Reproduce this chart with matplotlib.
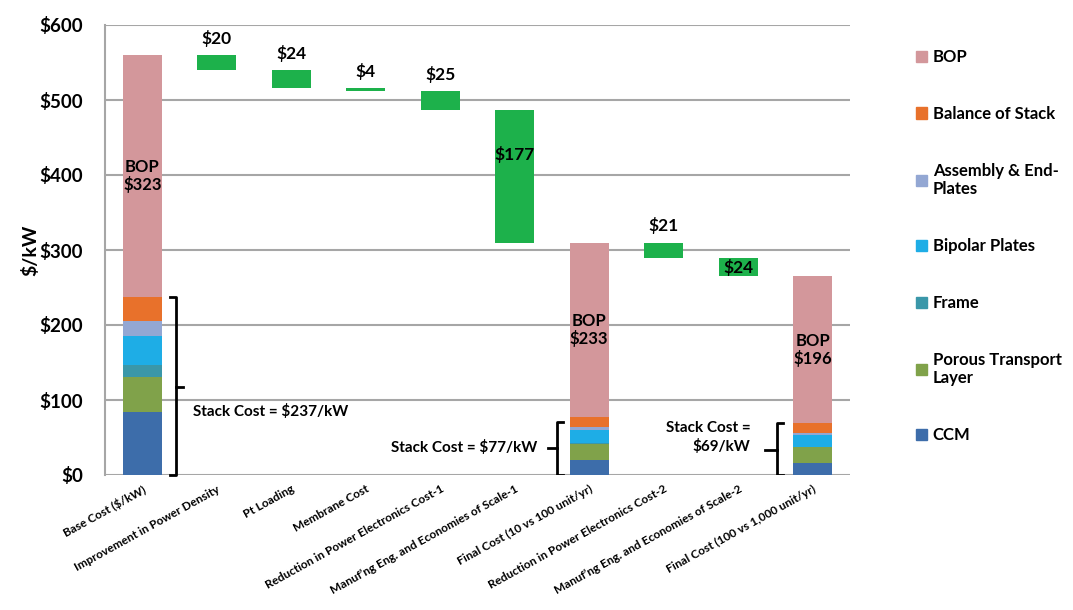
import numpy as np
import matplotlib
matplotlib.use("Agg")
import matplotlib.pyplot as plt
from matplotlib.patches import Patch

plt.rcParams['font.family'] = ['Lato', 'DejaVu Sans']
plt.rcParams['font.weight'] = 'bold'
plt.rcParams['axes.labelweight'] = 'bold'

# categories along the x axis
categories = [
    "Base Cost ($/kW)",
    "Improvement in Power Density",
    "Pt Loading",
    "Membrane Cost",
    "Reduction in Power Electronics Cost-1",
    "Manuf\u2019ng Eng. and Economies of Scale-1",
    "Final Cost (10 vs 100 unit/yr)",
    "Reduction in Power Electronics Cost-2",
    "Manuf\u2019ng Eng. and Economies of Scale-2",
    "Final Cost (100 vs 1,000 unit/yr)",
]

# stacked cost components (bottom to top)
components = ["CCM", "Porous Transport\nLayer", "Frame", "Bipolar Plates",
              "Assembly & End-\nPlates", "Balance of Stack", "BOP"]
base_stack = [84, 47, 16, 38, 21, 31, 323]
final1_stack = [20, 22, 1, 17, 4, 13, 233]
final2_stack = [16, 21, 1, 15, 3, 13, 196]

# cost reductions (waterfall steps)
step1 = [20, 24, 4, 25, 177]
step2 = [21, 24]

colors = ["#3D6DAA", "#80A24A", "#3A97A9", "#1EADE6", "#93A7D3", "#E8712B", "#D3979B"]
green = "#1DB14B"

fig = plt.figure(figsize=(10.73, 6.10), dpi=100)
ax = fig.add_axes([105 / 1073, 1 - 475 / 610, 745 / 1073, 450 / 610])

x = np.arange(len(categories))
w = 0.52

# stacked bars
stack_pos = {0: base_stack, 6: final1_stack, 9: final2_stack}
for pos, vals in stack_pos.items():
    bottom = 0
    for v, c in zip(vals, colors):
        ax.bar(x[pos], v, w, bottom=bottom, color=c, zorder=3)
        bottom += v
    # BOP label in the middle of the BOP segment
    ax.text(x[pos], sum(vals[:6]) + vals[6] / 2, "BOP\n$%d" % vals[6],
            ha="center", va="center", fontsize=12, linespacing=1.1, zorder=4)

# floating green reduction bars
top = sum(base_stack)
for i, d in enumerate(step1):
    ax.bar(x[1 + i], d, w, bottom=top - d, color=green, zorder=3)
    lab = "$%d" % d
    if d > 100:
        ax.text(x[1 + i], top - 60, lab, ha="center", va="center", fontsize=12.5, zorder=4)
    else:
        ax.annotate(lab, (x[1 + i], top), xytext=(0, 6), textcoords="offset points",
                    ha="center", va="bottom", fontsize=12.5)
    top -= d

top = sum(final1_stack)
for i, d in enumerate(step2):
    ax.bar(x[7 + i], d, w, bottom=top - d, color=green, zorder=3)
    lab = "$%d" % d
    if i == 1:
        ax.text(x[7 + i], top - d / 2, lab, ha="center", va="center", fontsize=12.5, zorder=4)
    else:
        ax.annotate(lab, (x[7 + i], top), xytext=(0, 6), textcoords="offset points",
                    ha="center", va="bottom", fontsize=12.5)
    top -= d

# stack cost brackets
s0 = sum(base_stack[:6])
bx = 0.453
ax.plot([bx - 0.08, bx, bx, bx - 0.08], [s0, s0, 0, 0], color="black", lw=2, zorder=4, clip_on=False)
ax.plot([bx, bx + 0.09], [117, 117], color="black", lw=2, zorder=4)
ax.text(0.68, 84, "Stack Cost = $%d/kW" % s0, ha="left", va="center", fontsize=11)

s1 = sum(final1_stack[:6])
bx = 5.567
ax.plot([bx + 0.08, bx, bx, bx + 0.08], [s1 - 6, s1 - 6, 0, 0], color="black", lw=2, zorder=4)
ax.plot([bx, bx - 0.12], [36, 36], color="black", lw=2, zorder=4)
ax.text(5.30, 36, "Stack Cost = $%d/kW" % s1, ha="right", va="center", fontsize=11)

s2 = sum(final2_stack[:6])
bx = 8.52
ax.plot([bx + 0.08, bx, bx, bx + 0.08], [s2, s2, 0, 0], color="black", lw=2, zorder=4)
ax.plot([bx, bx - 0.16], [33, 33], color="black", lw=2, zorder=4)
ax.text(8.16, 50, "Stack Cost =\n$%d/kW" % s2, ha="right", va="center", fontsize=11,
        multialignment="right", linespacing=1.3)

# axes styling
ax.set_xlim(-0.5, 9.5)
ax.set_ylim(0, 600)
ax.set_yticks(np.arange(0, 601, 100))
ax.set_yticklabels(["$%d" % v for v in np.arange(0, 601, 100)], fontsize=13.5)
ax.set_ylabel("$/kW", fontsize=14, labelpad=0)
ax.set_xticks(x)
ax.set_xticklabels(categories, rotation=29, ha="right", rotation_mode="anchor", fontsize=8.5)
ax.tick_params(axis="x", length=0, pad=6)
ax.tick_params(axis="y", length=0, pad=16)
ax.grid(axis="y", color="#A6A6A6", lw=1.5, zorder=0)
for s in ["top", "right", "bottom"]:
    ax.spines[s].set_visible(False)
ax.spines["left"].set_color("#A6A6A6")
ax.spines["left"].set_linewidth(1.5)

# legend
handles = [Patch(color=c, label=l) for c, l in zip(colors, components)][::-1]
fig.legend(handles=handles, loc="upper left", bbox_to_anchor=(901 / 1073, 1 - 34 / 610),
           frameon=False, fontsize=12, labelspacing=2.45, handlelength=0.65,
           handleheight=0.65, handletextpad=0.35)

fig.savefig("out.png", dpi=100)
